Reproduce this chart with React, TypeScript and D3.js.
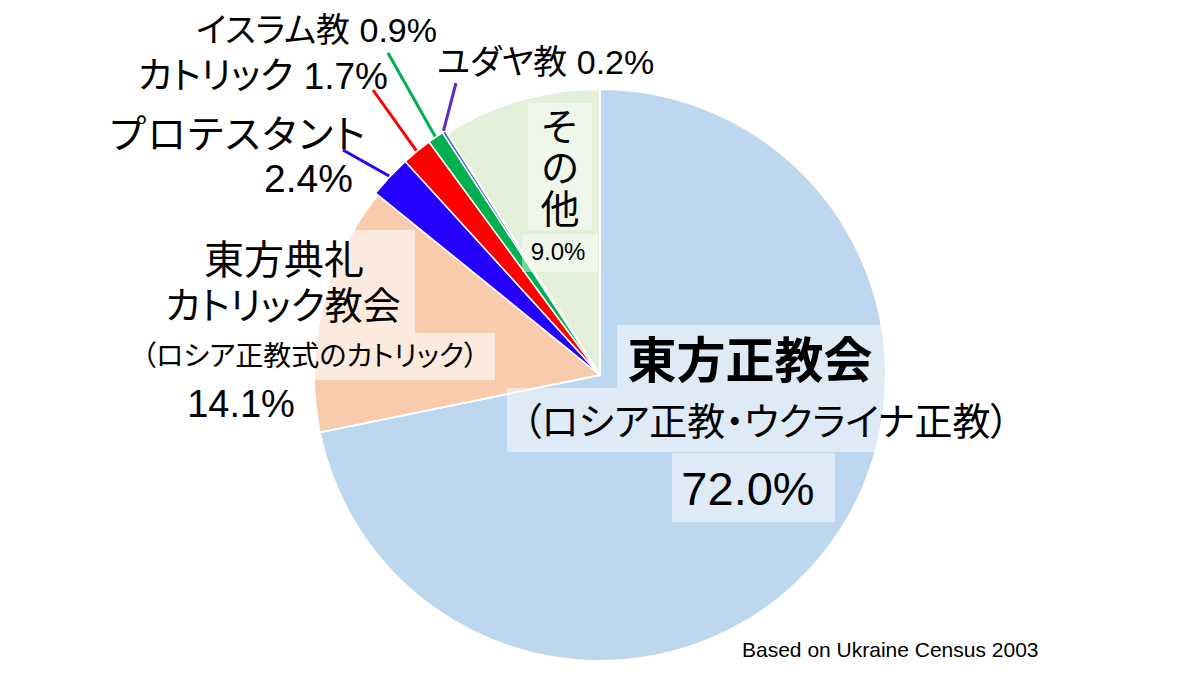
import React from "react";
import * as d3 from "d3";

const categories = ["東方正教会", "東方典礼カトリック教会", "プロテスタント", "カトリック", "イスラム教", "ユダヤ教", "その他"];
const values = [72.0, 14.1, 2.4, 1.7, 0.9, 0.2, 9.0];
const colors = ["#BDD7EE", "#F8CBAD", "#2600FF", "#FF0000", "#00B050", "#4472C4", "#E2F0D9"];
const leaderColors = ["", "", "#2600FF", "#FF0000", "#00B050", "#5B2BD0", ""];

const W = 1200, H = 675;
const cx = 600, cy = 375, R = 286;
const JP = "'Liberation Sans', Arial, 'Noto Sans CJK JP', sans-serif";

export default function App() {
  const data = categories.map((c, i) => ({ c, v: values[i], i }));
  const pie = d3.pie<any>().value((d) => d.v).sort(null);
  const arcs = pie(data);
  const small = (i: number) => i >= 2 && i <= 5;
  const arcGen = d3.arc<any>().innerRadius(0);

  // leader line far ends (label positions)
  const leaderEnds: Record<number, [number, number]> = {
    2: [343, 150],
    3: [373, 90],
    4: [388, 53],
    5: [456, 83],
  };

  const txt = (props: any, s: string, extraStyle: any = {}) => (
    <text
      fontFamily={JP}
      style={{ fontFeatureSettings: '"palt"', ...extraStyle }}
      fill="#000"
      {...props}
    >
      {s}
    </text>
  );

  return (
    <svg width={W} height={H} style={{ position: "absolute", left: 0, top: 0 }}>
      <rect width={W} height={H} fill="#fff" />
      <g transform={`translate(${cx},${cy})`}>
        {arcs.map((a, k) => (
          <path
            key={k}
            d={arcGen.outerRadius(small(a.index) ? R + 3 : R)(a) as string}
            fill={colors[a.index]}
            stroke="#fff"
            strokeWidth={small(a.index) ? 1.5 : 2}
            strokeLinejoin="round"
          />
        ))}
      </g>
      {arcs
        .filter((a) => small(a.index))
        .map((a, k) => {
          const mid = (a.startAngle + a.endAngle) / 2;
          const r0 = R + 4;
          const x0 = cx + r0 * Math.sin(mid);
          const y0 = cy - r0 * Math.cos(mid);
          const [x1, y1] = leaderEnds[a.index];
          return (
            <line key={k} x1={x0} y1={y0} x2={x1} y2={y1} stroke={leaderColors[a.index]} strokeWidth={3} />
          );
        })}

      {/* label background boxes */}
      <rect x={617} y={325} width={268} height={63} fill="#fff" opacity={0.5} />
      <rect x={507} y={388} width={520} height={64} fill="#fff" opacity={0.5} />
      <rect x={672} y={453} width={163} height={69} fill="#fff" opacity={0.5} />
      <rect x={165} y={230} width={250} height={103} fill="#fff" opacity={0.6} />
      <rect x={125} y={333} width={370} height={47} fill="#fff" opacity={0.6} />
      <rect x={528} y={103} width={64} height={127} fill="#fff" opacity={0.45} />
      <rect x={522} y={234} width={76} height={38} fill="#fff" opacity={0.45} />

      {txt({ x: 750, y: 378, fontSize: 49, fontWeight: "bold", textAnchor: "middle" }, "東方正教会")}
      {txt({ x: 766, y: 435, fontSize: 38, textAnchor: "middle" }, "（ロシア正教・ウクライナ正教）")}
      {txt({ x: 748, y: 505, fontSize: 47, textAnchor: "middle" }, "72.0%")}

      {txt({ x: 284, y: 274, fontSize: 40, textAnchor: "middle" }, "東方典礼")}
      {txt({ x: 283, y: 319, fontSize: 38, textAnchor: "middle" }, "カトリック教会")}
      {txt({ x: 310, y: 366, fontSize: 28, textAnchor: "middle" }, "（ロシア正教式のカトリック）")}
      {txt({ x: 241, y: 417, fontSize: 38, textAnchor: "middle" }, "14.1%")}

      {txt({ x: 367, y: 148, fontSize: 39, textAnchor: "end" }, "プロテスタント", { letterSpacing: "2px" })}
      {txt({ x: 353, y: 192, fontSize: 39, textAnchor: "end" }, "2.4%")}
      {txt({ x: 388, y: 89, fontSize: 37, textAnchor: "end" }, "カトリック 1.7%")}
      {txt({ x: 437, y: 42, fontSize: 34, textAnchor: "end" }, "イスラム教 0.9%")}
      {txt({ x: 437, y: 74, fontSize: 34, textAnchor: "start" }, "ユダヤ教 0.2%")}

      <text
        x={560}
        y={107}
        fontSize={39}
        fontFamily="'Noto Sans CJK JP', sans-serif"
        fill="#000"
        style={{ writingMode: "vertical-rl", letterSpacing: "2px" } as any}
      >
        その他
      </text>
      {txt({ x: 558, y: 260, fontSize: 24, textAnchor: "middle" }, "9.0%")}

      <text x={742} y={657} fontSize={21} fontFamily="'Liberation Sans', Arial, sans-serif" fill="#000">
        Based on Ukraine Census 2003
      </text>
    </svg>
  );
}
